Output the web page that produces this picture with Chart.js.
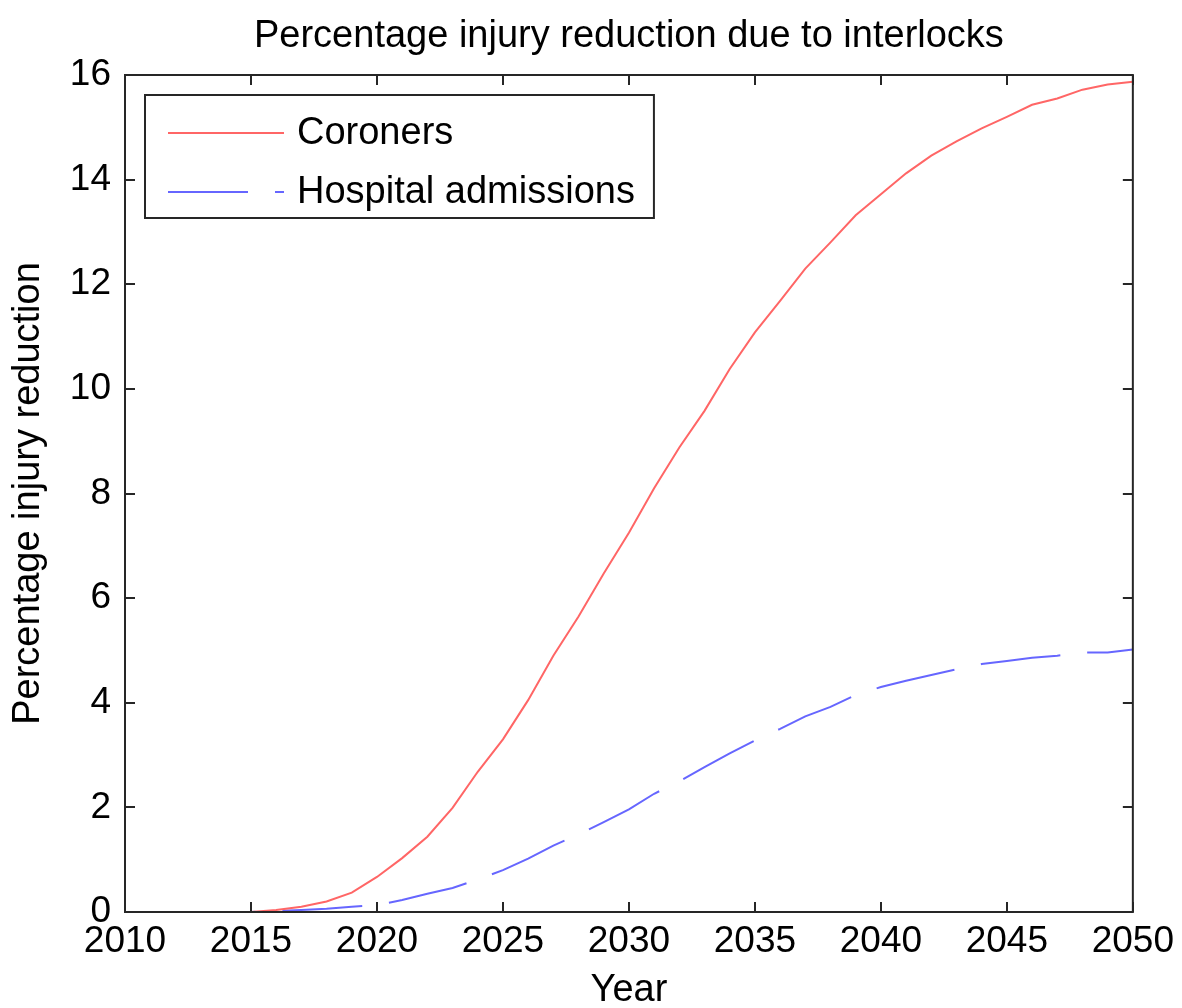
<!DOCTYPE html>
<html>
<head>
<meta charset="utf-8">
<script src="https://cdn.jsdelivr.net/npm/chart.js@4.4.1/dist/chart.umd.min.js"></script>
<style>
  html, body { margin: 0; padding: 0; background: #ffffff; }
  #wrap { width: 1182px; height: 1008px; }
</style>
</head>
<body>
<div id="wrap"><canvas id="chart" width="1182" height="1008"></canvas></div>
<script>
// Projected percentage injury reduction per year
const years = [2012, 2013, 2014, 2015, 2016, 2017, 2018, 2019, 2020, 2021,
               2022, 2023, 2024, 2025, 2026, 2027, 2028, 2029, 2030, 2031,
               2032, 2033, 2034, 2035, 2036, 2037, 2038, 2039, 2040, 2041,
               2042, 2043, 2044, 2045, 2046, 2047, 2048, 2049, 2050];

const coroners = [0, 0, 0, 0, 0.04, 0.10, 0.20, 0.37, 0.67, 1.03,
                  1.44, 1.99, 2.68, 3.30, 4.05, 4.90, 5.65, 6.47, 7.25, 8.10,
                  8.88, 9.58, 10.38, 11.08, 11.68, 12.30, 12.80, 13.32, 13.72, 14.12,
                  14.46, 14.73, 14.98, 15.20, 15.43, 15.55, 15.72, 15.82, 15.87];

const hospital = [0, 0, 0, 0, 0.02, 0.04, 0.06, 0.10, 0.13, 0.23,
                  0.35, 0.46, 0.62, 0.80, 1.02, 1.27, 1.48, 1.72, 1.96, 2.26,
                  2.50, 2.77, 3.03, 3.28, 3.50, 3.74, 3.92, 4.15, 4.30, 4.42,
                  4.53, 4.64, 4.74, 4.80, 4.86, 4.90, 4.96, 4.96, 5.02];

const xTickLabels = ['2010', '2015', '2020', '2025', '2030', '2035', '2040', '2045', '2050'];
const yTickLabels = ['0', '2', '4', '6', '8', '10', '12', '14', '16'];

const seriesNames = ['Coroners', 'Hospital admissions'];

const FONT = '"Liberation Sans", Arial, Helvetica, sans-serif';
const TICK_LEN = 10;

function toPoints(values) {
  return years.map((yr, i) => ({ x: yr, y: values[i] }));
}

// Box frame with inward tick marks on all four sides
const framePlugin = {
  id: 'frame',
  afterDatasetsDraw(chart) {
    const { ctx, chartArea: a, scales } = chart;
    ctx.save();
    ctx.strokeStyle = '#262626';
    ctx.lineWidth = 2;
    ctx.setLineDash([]);
    ctx.beginPath();
    scales.x.ticks.forEach(t => {
      const px = Math.round(scales.x.getPixelForValue(t.value));
      ctx.moveTo(px, a.bottom);
      ctx.lineTo(px, a.bottom - TICK_LEN);
      ctx.moveTo(px, a.top);
      ctx.lineTo(px, a.top + TICK_LEN);
    });
    scales.y.ticks.forEach(t => {
      const py = Math.round(scales.y.getPixelForValue(t.value));
      ctx.moveTo(a.left, py);
      ctx.lineTo(a.left + TICK_LEN, py);
      ctx.moveTo(a.right, py);
      ctx.lineTo(a.right - TICK_LEN, py);
    });
    ctx.stroke();
    ctx.strokeRect(a.left, a.top, a.right - a.left, a.bottom - a.top);
    ctx.restore();
  }
};

// Boxed legend in the upper-left corner of the plot
const boxLegendPlugin = {
  id: 'boxLegend',
  afterDraw(chart) {
    const { ctx, chartArea: a } = chart;
    const ds = chart.data.datasets;
    const left = a.left + 20;
    const top = a.top + 20;
    const sampleX0 = left + 23;
    const sampleLen = 116;
    const textX = left + 152;
    const rowY = [top + 38, top + 97];
    ctx.save();
    ctx.font = '38px ' + FONT;
    let maxW = 0;
    ds.forEach(d => { maxW = Math.max(maxW, ctx.measureText(d.label).width); });
    const width = textX + maxW + 19 - left;
    const height = 123;
    ctx.fillStyle = '#ffffff';
    ctx.fillRect(left, top, width, height);
    ctx.strokeStyle = '#262626';
    ctx.lineWidth = 2;
    ctx.setLineDash([]);
    ctx.strokeRect(left, top, width, height);
    ds.forEach((d, i) => {
      ctx.strokeStyle = d.borderColor;
      ctx.lineWidth = d.borderWidth;
      ctx.setLineDash(d.borderDash || []);
      ctx.beginPath();
      ctx.moveTo(sampleX0, rowY[i]);
      ctx.lineTo(sampleX0 + sampleLen, rowY[i]);
      ctx.stroke();
      ctx.setLineDash([]);
      ctx.fillStyle = '#000000';
      ctx.textAlign = 'left';
      ctx.textBaseline = 'middle';
      ctx.fillText(d.label, textX, rowY[i] + 1);
    });
    ctx.restore();
  }
};

new Chart(document.getElementById('chart'), {
  type: 'line',
  data: {
    datasets: [
      {
        label: seriesNames[0],
        data: toPoints(coroners),
        borderColor: '#ff6666',
        borderWidth: 2,
        pointRadius: 0,
        tension: 0,
        fill: false
      },
      {
        label: seriesNames[1],
        data: toPoints(hospital),
        borderColor: '#6666ff',
        borderWidth: 2,
        borderDash: [80, 27],
        pointRadius: 0,
        tension: 0,
        fill: false
      }
    ]
  },
  options: {
    responsive: false,
    animation: false,
    layout: { padding: { left: 0, right: 49, top: 0, bottom: 0 } },
    plugins: {
      legend: { display: false },
      tooltip: { enabled: false },
      title: {
        display: true,
        fullSize: false,
        text: 'Percentage injury reduction due to interlocks',
        color: '#000000',
        font: { family: FONT, size: 38, weight: 'normal', lineHeight: 1.2 },
        padding: { top: 14, bottom: 15.4 }
      }
    },
    scales: {
      x: {
        type: 'linear',
        min: 2010,
        max: 2050,
        afterBuildTicks: s => { s.ticks = xTickLabels.map(l => ({ value: Number(l) })); },
        afterFit: s => { s.height = 96; },
        ticks: {
          autoSkip: false,
          maxRotation: 0,
          padding: 8,
          color: '#000000',
          font: { family: FONT, size: 37 },
          callback: (v, i) => xTickLabels[i]
        },
        grid: { display: false, drawTicks: false },
        border: { display: false },
        title: {
          display: true,
          text: 'Year',
          color: '#000000',
          font: { family: FONT, size: 38 },
          padding: { top: 0, bottom: -5 }
        }
      },
      y: {
        min: 0,
        max: 16,
        afterBuildTicks: s => { s.ticks = yTickLabels.map(l => ({ value: Number(l) })); },
        afterFit: s => { s.width = 125; },
        ticks: {
          autoSkip: false,
          padding: 14,
          color: '#000000',
          font: { family: FONT, size: 37 },
          callback: (v, i) => yTickLabels[i]
        },
        grid: { display: false, drawTicks: false },
        border: { display: false },
        title: {
          display: true,
          text: 'Percentage injury reduction',
          color: '#000000',
          font: { family: FONT, size: 38 },
          padding: { top: 6, bottom: 0 }
        }
      }
    }
  },
  plugins: [framePlugin, boxLegendPlugin]
});
</script>
</body>
</html>
